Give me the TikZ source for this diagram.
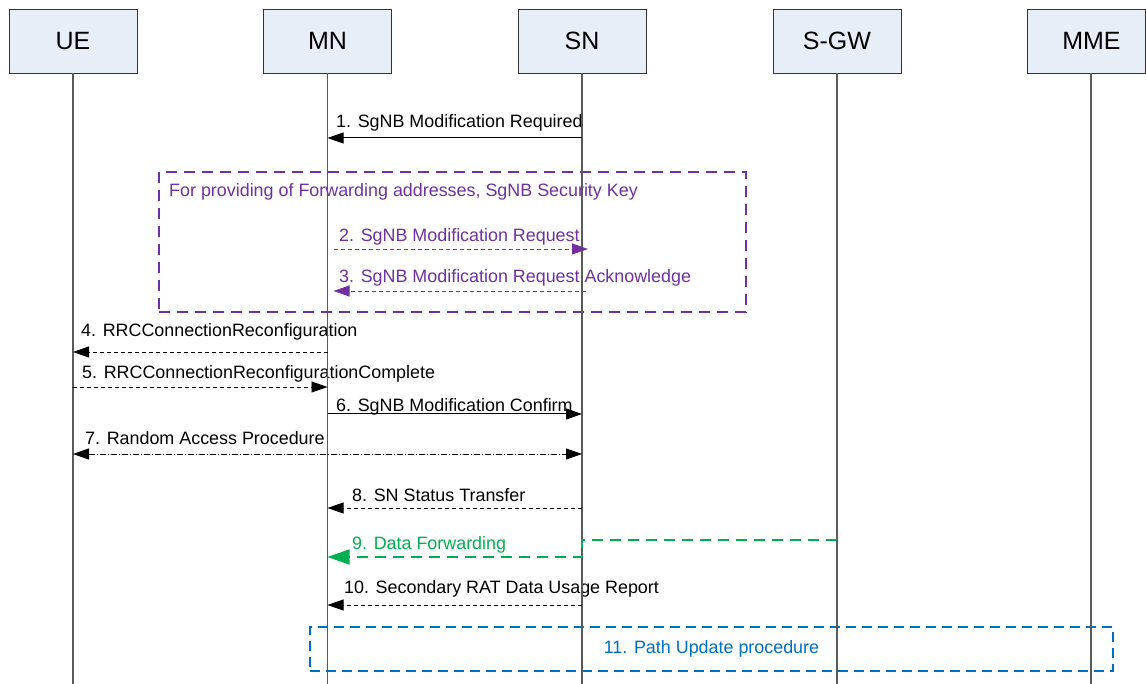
\documentclass[tikz,border=0pt]{standalone}
\usepackage{fontspec}
\setmainfont{Liberation Sans}
\usetikzlibrary{arrows.meta,calc}
\definecolor{boxfill}{HTML}{E8EEF8}
\definecolor{boxline}{HTML}{333333}
\definecolor{lifegray}{HTML}{5A5A5A}
\definecolor{purp}{HTML}{7030A0}
\definecolor{grn}{HTML}{00B050}
\definecolor{blu}{HTML}{0070C0}
\begin{document}
\begin{tikzpicture}[x=1pt,y=-1pt,
  actor/.style={draw=boxline, fill=boxfill, line width=0.9pt, minimum width=128pt,
    minimum height=64pt, inner sep=0pt, font=\fontsize{25}{29}\selectfont},
  lifeline/.style={draw=lifegray, line width=1.2pt},
  msglabel/.style={anchor=base west, inner sep=0pt, font=\fontsize{17.9}{20}\selectfont},
  tiphead/.style={-{Triangle[length=16pt,width=11pt]}},
  solidmsg/.style={line width=1pt, tiphead},
  dashmsg/.style={line width=0.9pt, dash pattern=on 4pt off 3pt, tiphead},
  purpmsg/.style={purp, line width=0.9pt, dash pattern=on 4pt off 3pt, tiphead},
  dashdotmsg/.style={line width=0.9pt, dash pattern=on 6pt off 2pt on 1pt off 2pt,
    {Triangle[length=16pt,width=11pt]}-{Triangle[length=16pt,width=11pt]}},
  grnmsg/.style={grn, line width=1.5pt, dash pattern=on 11pt off 7pt,
    -{Triangle[length=22pt,width=15pt]}},
  purpframe/.style={draw=purp, line width=1.5pt, dash pattern=on 11pt off 7pt,
    inner sep=0pt},
  bluframe/.style={draw=blu, line width=1.5pt, dash pattern=on 10pt off 6pt,
    inner sep=0pt, text=blu, font=\fontsize{17.9}{20}\selectfont}
]
\useasboundingbox (0,0) rectangle (1146,684);

% participants
\node[actor] (ue) at (73,41) {UE};
\node[actor] (mn) at (327.5,41) {MN};
\node[actor] (sn) at (582,41) {SN};
\node[actor] (sgw) at (837,41) {S-GW};
\node[actor, minimum width=118pt] (mme) at (1086.5,41) {\hspace*{10pt}MME};
\coordinate (mmetop) at ($(mme.south)+(4.5,0)$);

% frames
\node[purpframe, minimum width=587pt, minimum height=140pt] (frameA) at (452.5,242) {};
\node[msglabel, text=purp] (frameAtitle) at (169,197) {For providing of Forwarding addresses, SgNB Security Key};
\node[bluframe, minimum width=803pt, minimum height=44pt] (frameB) at (711.5,649) {11. Path Update procedure};

% labels
\node[msglabel] (l1) at (336,128) {1. SgNB Modification Required};
\node[msglabel, text=purp] (l2) at (339,242) {2. SgNB Modification Request};
\node[msglabel, text=purp] (l3) at (339,283) {3. SgNB Modification Request Acknowledge};
\node[msglabel] (l4) at (81,337) {4. RRCConnectionReconfiguration};
\node[msglabel] (l5) at (82,379) {5. RRCConnectionReconfigurationComplete};
\node[msglabel] (l6) at (336,412) {6. SgNB Modification Confirm};
\node[msglabel] (l7) at (85,444) {7. Random Access Procedure};
\node[msglabel] (l8) at (352,501) {8. SN Status Transfer};
\node[msglabel, text=grn] (l9) at (352,549) {9. Data Forwarding};
\node[msglabel] (l10) at (344,593) {10. Secondary RAT Data Usage Report};

% lifelines
\draw[lifeline] (ue.south) -- (ue.south |- 0,684);
\draw[lifeline] (mn.south) -- (mn.south |- 0,684);
\draw[lifeline] (sn.south) -- (sn.south |- 0,684);
\draw[lifeline] (sgw.south) -- (sgw.south |- 0,684);
\draw[lifeline] (mmetop) -- (mmetop |- 0,684);

% messages
\draw[solidmsg] (sn |- 0,138) -- (mn |- 0,138);
\draw[purpmsg] ($(mn |- 0,249)+(6,0)$) -- ($(sn |- 0,249)+(6,0)$);
\draw[purpmsg] ($(sn |- 0,291)+(4,0)$) -- ($(mn |- 0,291)+(6,0)$);
\draw[dashmsg] (mn |- 0,352) -- (ue |- 0,352);
\draw[dashmsg] (ue |- 0,387) -- (mn |- 0,387);
\draw[solidmsg] (mn |- 0,414) -- (sn |- 0,414);
\draw[dashdotmsg] (ue |- 0,454) -- (sn |- 0,454);
\draw[dashmsg] (sn |- 0,508) -- (mn |- 0,508);
\draw[grnmsg] (sgw |- 0,540) -- (sn |- 0,540) -- (sn |- 0,557) -- (mn |- 0,557);
\draw[dashmsg] (sn |- 0,605) -- (mn |- 0,605);
\end{tikzpicture}
\end{document}
